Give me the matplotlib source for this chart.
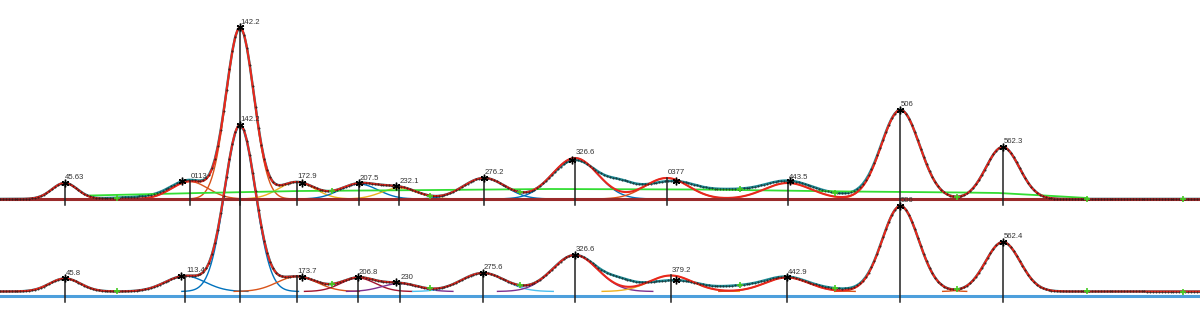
import numpy as np
import matplotlib.pyplot as plt

# --- peak table, upper trace ---
top_labels = ["45.63", "0113", "142.2", "172.9", "207.5", "232.1", "276.2",
              "326.6", "0377", "443.5", "506", "562.3"]
top_centers = [45.6, 114.5, 142.2, 173.4, 207.7, 230.0, 276.6, 326.7, 377.3, 443.9, 506.0, 562.3]
top_heights = [16, 17.5, 171, 17, 15, 11, 21, 41, 21, 16, 89, 52]
top_sigmas = [7.0, 10, 7.6, 10, 10.5, 10, 11.5, 12.5, 12, 13, 10.5, 9.2]
top_stars = [45.6, 110.3, 142.2, 176.3, 207.7, 228.1, 276.6, 325.0, 382.3, 445.0, 506.0, 562.3]
# measured minus fitted (broad misfit between 330 and 480)
top_resid = [(95, 2.5, 18), (326.7, -2, 8), (352, 12, 8), (377, -5, 8), (410, 9, 18), (470, 4, 15)]
top_base_v = [59.6, 120, 175, 250, 313, 395, 478, 540, 560, 590, 609]
top_base_h = [3.5, 6, 8, 9, 10, 9.5, 7.5, 6.5, 6, 3, 1]

# --- peak table, lower trace ---
bot_labels = ["45.8", "113.4", "142.2", "173.7", "206.8", "230", "275.6",
              "326.6", "379.2", "442.9", "506", "562.4"]
bot_centers = [45.8, 112.0, 142.2, 173.6, 207.2, 230.3, 276.0, 326.7, 379.5, 443.4, 506.0, 562.4]
bot_heights = [13, 15.5, 166, 15, 13.5, 8, 18.5, 36.5, 16, 14, 85.5, 49.5]
bot_sigmas = [8.5, 11, 8.4, 11, 9.5, 10, 12, 12.5, 12, 12, 10, 9.5]
bot_stars = [45.8, 109.7, 142.2, 176.3, 207.2, 228.1, 276.0, 326.6, 382.3, 443.4, 506.0, 562.4]
bot_resid = [(352, 8, 8), (379, -5, 8), (416, 5, 14), (470, 2, 12)]
bot_base = 4.5

anchor_v = [74.5, 192.9, 246.8, 296.4, 417.7, 469.8, 537.0, 608.6, 661.5]

top_colors = ['#A2142F', '#D95319', '#D95319', '#EDB120', '#0072BD', '#EDB120',
              '#0072BD', '#0072BD', '#D95319', '#EDB120', '#D95319', '#A2142F']
bot_colors = ['#D95319', '#0072BD', '#0072BD', '#D95319', '#A2142F', '#7E2F8E',
              '#4DBEEE', '#7E2F8E', '#EDB120', '#D95319', '#D95319', '#D95319']

OFFSET = 97
V0, V1 = 10, 671


def gauss(x, c, h, s):
    return h * np.exp(-0.5 * ((x - c) / s) ** 2)


def fit(x, cs, hs, ss, base=0.0):
    y = np.full_like(x, base, dtype=float)
    for c, h, s in zip(cs, hs, ss):
        y += gauss(x, c, h, s)
    return y


def measured(x, cs, hs, ss, resid, base=0.0):
    y = fit(x, cs, hs, ss, base)
    for c, h, s in resid:
        y += gauss(x, c, h, s)
    return y


x = np.linspace(V0, V1, 1400)
xd = np.arange(V0, V1, 1.6)

fig = plt.figure(figsize=(12, 3.18), dpi=100)
ax = fig.add_axes([0, 0, 1, 1])
ax.set_xlim(V0, V1)
ax.set_ylim(-22, 296)
ax.axis('off')

panels = [
    (OFFSET, 0.0, top_labels, top_centers, top_heights, top_sigmas, top_stars, top_resid, top_colors, '#9a2a2a'),
    (0, bot_base, bot_labels, bot_centers, bot_heights, bot_sigmas, bot_stars, bot_resid, bot_colors, '#4d9fdc'),
]

for off, base, labels, cs, hs, ss, stars, resid, cols, bcol in panels:
    ax.axhline(off, color=bcol, lw=2.2, zorder=4.5)
    yd = measured(xd, cs, hs, ss, resid, base)
    ax.plot(xd, yd + off, color='#1e8c96', lw=1.8, zorder=2)
    for c, h, s, col in zip(cs, hs, ss, cols):
        g = gauss(x, c, h, s)
        g[g < 0.1] = np.nan
        ax.plot(x, g + base + off, color=col, lw=1.0, zorder=3)
    ax.plot(x, fit(x, cs, hs, ss, base) + off, color='#e8271d', lw=1.5, zorder=4)
    ax.plot(xd, yd + off, ls='none', marker='.', ms=0.9, color='#111111', alpha=0.85, zorder=5)
    # vertical peak markers and labels
    tops = fit(np.array(cs, dtype=float), cs, hs, ss, base)
    for c, t, lab in zip(cs, tops, labels):
        ax.plot([c, c], [off - 6, t + off], color='#222222', lw=1.1, zorder=6)
        ax.text(c + 0.4, t + off + 1.5, lab, fontsize=5.6, family='Liberation Sans',
                color='#333333', ha='left', va='bottom', zorder=7)
    sv = np.array(stars, dtype=float)
    ax.plot(sv, measured(sv, cs, hs, ss, resid, base) + off, ls='none',
            marker=(6, 2, 0), ms=5.5, mew=1.0, color='black', zorder=8)
    av = np.array(anchor_v, dtype=float)
    ax.plot(av, measured(av, cs, hs, ss, resid, base) + off, ls='none',
            marker='+', ms=5, mew=1.2, color='#44cc22', zorder=8)

ax.plot(top_base_v, np.array(top_base_h) + OFFSET, color='#33dd33', lw=1.3, zorder=3)

fig.savefig('out.png', dpi=100)
